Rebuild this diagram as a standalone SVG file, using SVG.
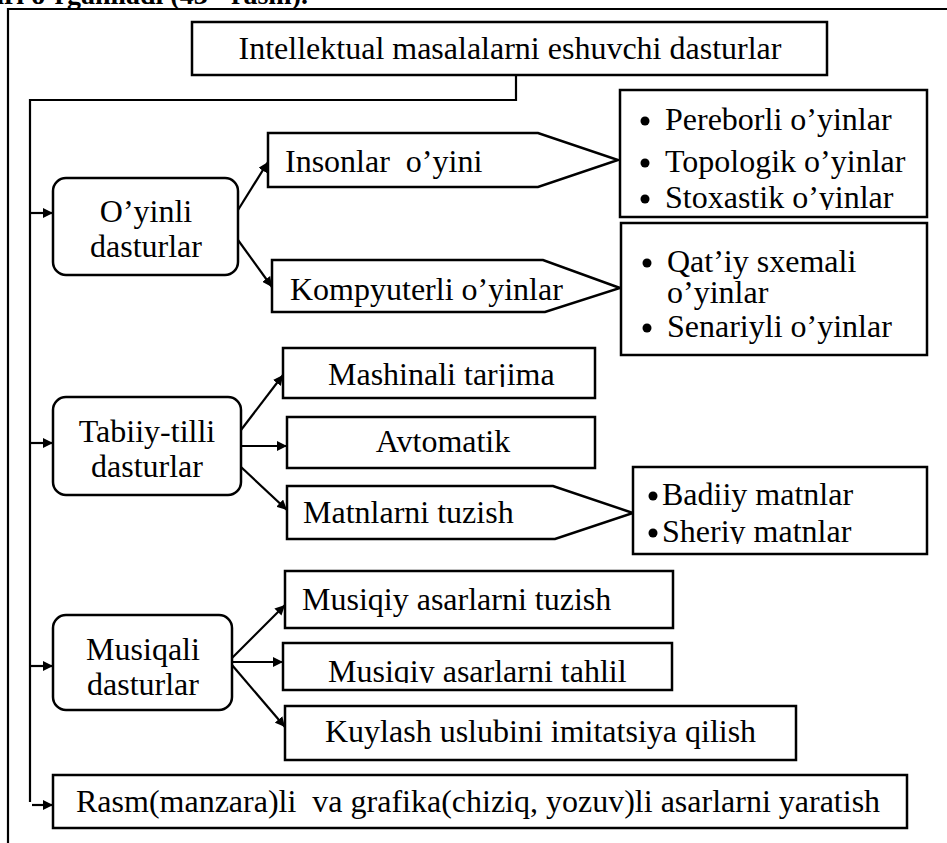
<svg xmlns="http://www.w3.org/2000/svg" width="947" height="843" viewBox="0 0 947 843">
  <style>
    .box { fill: #fff; stroke: #000; stroke-width: 2.5; }
    .line { fill: none; stroke: #000; stroke-width: 2.2; }
    .dot { fill: #000; }
    .t { font-family: "Liberation Serif", "Times New Roman", serif; font-size: 32px; fill: #000; }
    .c { text-anchor: middle; }
    .hdr { font-family: "Liberation Serif", "Times New Roman", serif; font-size: 28px; font-weight: bold; fill: #000; text-anchor: end; }
  </style>
  <defs>
    <marker id="arr" viewBox="0 0 10 10" refX="10" refY="5" markerWidth="10" markerHeight="10" markerUnits="userSpaceOnUse" orient="auto">
      <path d="M0,0 L10,5 L0,10 Z" fill="#000"/>
    </marker>
    <clipPath id="clipTarjima"><rect x="283" y="348" width="312" height="39"/></clipPath>
    <clipPath id="clipStox"><rect x="620" y="180" width="307" height="30"/></clipPath>
    <clipPath id="clipSheriy"><rect x="633" y="515" width="294" height="29"/></clipPath>
    <clipPath id="clipTahlil"><rect x="283" y="643" width="389" height="40"/></clipPath>
  </defs>
  <rect width="947" height="843" fill="#fff"/>

  <!-- caption line above the frame, cut at the top edge -->
  <text class="hdr" x="308" y="4">hish muammolari o’rganiladi (43 - rasm).</text>

  <!-- outer frame -->
  <path class="line" d="M8,843 L8,9 L947,9"/>

  <g id="connectors">
    <path class="line" d="M516,75 L516,100 L30,100 L30,802"/>
    <path class="line" d="M30,213 L53,213" marker-end="url(#arr)"/>
    <path class="line" d="M30,443 L53,443" marker-end="url(#arr)"/>
    <path class="line" d="M30,666 L53,666" marker-end="url(#arr)"/>
    <path class="line" d="M32,805 L53,805" marker-end="url(#arr)"/>
    <!-- O'yinli dasturlar -->
    <path class="line" d="M238,210 L268,162" marker-end="url(#arr)"/>
    <path class="line" d="M238,240 L272,287" marker-end="url(#arr)"/>
    <!-- Tabiiy-tilli dasturlar -->
    <path class="line" d="M241,430 L283,375" marker-end="url(#arr)"/>
    <path class="line" d="M241,446 L287,446" marker-end="url(#arr)"/>
    <path class="line" d="M241,467 L287,510" marker-end="url(#arr)"/>
    <!-- Musiqali dasturlar -->
    <path class="line" d="M232,658 L285,605" marker-end="url(#arr)"/>
    <path class="line" d="M232,662 L283,662" marker-end="url(#arr)"/>
    <path class="line" d="M232,665 L285,727" marker-end="url(#arr)"/>
  </g>

  <g id="root">
    <rect class="box" x="192" y="22" width="635" height="53"/>
    <text class="t c" x="510" y="59">Intellektual masalalarni eshuvchi dasturlar</text>
  </g>

  <g id="oyinli">
    <rect class="box" x="53" y="178" width="185" height="97" rx="13"/>
    <text class="t c" x="146" y="222">O’yinli</text>
    <text class="t c" x="146" y="257">dasturlar</text>
  </g>

  <g id="insonlar">
    <path class="box" d="M268,133 L538,133 L618,160 L538,187 L268,187 Z"/>
    <text class="t" x="285" y="172" xml:space="preserve">Insonlar  o’yini</text>
  </g>

  <g id="kompyuterli">
    <path class="box" d="M272,260 L543,260 L620,288 L545,312 L272,312 Z"/>
    <text class="t" x="290" y="300">Kompyuterli o’yinlar</text>
  </g>

  <g id="insonlar-list">
    <rect class="box" x="620" y="90" width="307" height="127"/>
    <circle class="dot" cx="645" cy="121" r="4.5"/>
    <text class="t" x="665" y="130">Pereborli o’yinlar</text>
    <circle class="dot" cx="645" cy="163" r="4.5"/>
    <text class="t" x="665" y="172">Topologik o’yinlar</text>
    <circle class="dot" cx="645" cy="199" r="4.5"/>
    <text class="t" x="665" y="208" clip-path="url(#clipStox)">Stoxastik o’yinlar</text>
  </g>

  <g id="kompyuterli-list">
    <rect class="box" x="621" y="223" width="306" height="132"/>
    <circle class="dot" cx="647" cy="263" r="4.5"/>
    <text class="t" x="667" y="272">Qat’iy sxemali</text>
    <text class="t" x="667" y="303">o’yinlar</text>
    <circle class="dot" cx="647" cy="328" r="4.5"/>
    <text class="t" x="667" y="337">Senariyli o’yinlar</text>
  </g>

  <g id="tabiiy">
    <rect class="box" x="53" y="397" width="188" height="98" rx="13"/>
    <text class="t c" x="147" y="442">Tabiiy-tilli</text>
    <text class="t c" x="147" y="477">dasturlar</text>
  </g>

  <g id="mashinali">
    <rect class="box" x="283" y="348" width="312" height="50"/>
    <text class="t" x="328" y="385" clip-path="url(#clipTarjima)">Mashinali tarjima</text>
  </g>

  <g id="avtomatik">
    <rect class="box" x="287" y="417" width="308" height="51"/>
    <text class="t c" x="443" y="452">Avtomatik</text>
  </g>

  <g id="matnlarni">
    <path class="box" d="M287,486 L553,486 L633,513 L555,539 L287,539 Z"/>
    <text class="t" x="303" y="523">Matnlarni tuzish</text>
  </g>

  <g id="matnlarni-list">
    <rect class="box" x="633" y="467" width="294" height="87"/>
    <circle class="dot" cx="653" cy="496" r="4.5"/>
    <text class="t" x="662" y="505">Badiiy matnlar</text>
    <circle class="dot" cx="653" cy="533" r="4.5"/>
    <text class="t" x="662" y="542" clip-path="url(#clipSheriy)">Sheriy matnlar</text>
  </g>

  <g id="musiqali">
    <rect class="box" x="53" y="615" width="179" height="95" rx="13"/>
    <text class="t c" x="143" y="660">Musiqali</text>
    <text class="t c" x="143" y="695">dasturlar</text>
  </g>

  <g id="musiqiy-tuzish">
    <rect class="box" x="285" y="571" width="388" height="57"/>
    <text class="t" x="302" y="610">Musiqiy asarlarni tuzish</text>
  </g>

  <g id="musiqiy-tahlil">
    <rect class="box" x="283" y="643" width="389" height="47"/>
    <text class="t" x="328" y="682" clip-path="url(#clipTahlil)">Musiqiy asarlarni tahlil</text>
  </g>

  <g id="kuylash">
    <rect class="box" x="285" y="706" width="511" height="54"/>
    <text class="t" x="325" y="742">Kuylash uslubini imitatsiya qilish</text>
  </g>

  <g id="rasm">
    <rect class="box" x="53" y="775" width="854" height="53"/>
    <text class="t" x="76" y="812" xml:space="preserve">Rasm(manzara)li  va grafika(chiziq, yozuv)li asarlarni yaratish</text>
  </g>
</svg>
